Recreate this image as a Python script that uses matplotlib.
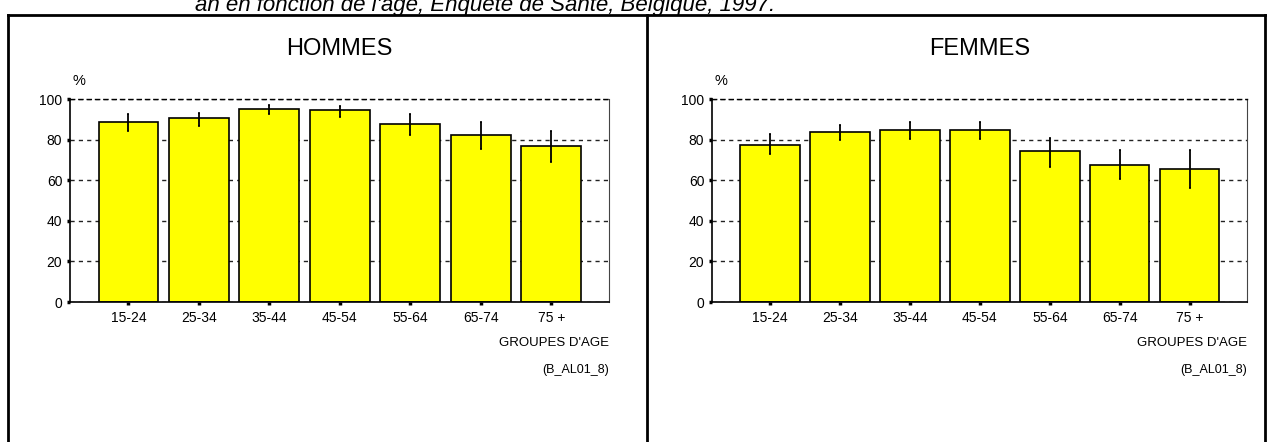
import matplotlib.pyplot as plt
from matplotlib.lines import Line2D
import numpy as np

plt.rcParams['font.family'] = ['Liberation Sans', 'DejaVu Sans']

groupes = ["15-24", "25-34", "35-44", "45-54", "55-64", "65-74", "75 +"]

hommes = [88.8, 90.6, 95.1, 94.4, 87.5, 82.4, 76.7]
hommes_haut = [92.6, 92.9, 97.0, 96.5, 92.6, 88.7, 84.2]
hommes_bas = [84.4, 86.9, 92.4, 91.3, 82.4, 75.5, 68.8]

femmes = [77.3, 83.7, 84.9, 84.9, 74.4, 67.3, 65.5]
femmes_haut = [82.8, 87.2, 88.7, 88.7, 80.6, 74.9, 74.9]
femmes_bas = [73.1, 80.0, 80.5, 80.1, 66.7, 60.6, 56.0]

titre = "an en fonction de l'âge, Enquête de Santé, Belgique, 1997."

W, H = 1275, 442


def px(x0, y0, x1, y1):
    # pixel box (top-left origin) -> figure fraction
    return [x0 / W, (H - y1) / H, (x1 - x0) / W, (y1 - y0) / H]


def draw_panel(fig, rect, name, vals, hi, lo):
    ax = fig.add_axes(rect)
    x = np.arange(len(groupes))
    ax.set_axisbelow(True)
    ax.yaxis.grid(True, color='#222222', linestyle=(0, (3, 3)), linewidth=1)
    ax.bar(x, vals, width=0.85, color='#ffff00', edgecolor='black', linewidth=1.2, zorder=2)
    vals = np.array(vals)
    err = [vals - np.array(lo), np.array(hi) - vals]
    ax.errorbar(x, vals, yerr=err, fmt='none', ecolor='black', elinewidth=1.3, capsize=1, capthick=1.2, zorder=3)
    ax.set_xlim(-0.83, 6.82)
    ax.set_ylim(0, 100)
    ax.set_yticks([0, 20, 40, 60, 80, 100])
    ax.set_xticks(x)
    ax.set_xticklabels(groupes)
    ax.tick_params(axis='both', direction='out', length=2.5, width=2.5, labelsize=10, colors='black')
    ax.tick_params(axis='y', pad=3)
    ax.tick_params(axis='x', pad=4)
    ax.spines['top'].set_linestyle((0, (3, 3)))
    ax.spines['top'].set_linewidth(1)
    ax.spines['right'].set_color('#444444')
    ax.spines['left'].set_linewidth(1.2)
    ax.spines['bottom'].set_linewidth(1.2)
    ax.set_title(name, fontsize=17, pad=32)
    ax.text(0.017, 1.09, "%", transform=ax.transAxes, fontsize=10.5, ha='center', va='center')
    ax.text(1.0, -0.2, "GROUPES D'AGE", transform=ax.transAxes, fontsize=9.5, ha='right', va='center')
    ax.text(1.0, -0.333, "(B_AL01_8)", transform=ax.transAxes, fontsize=9, ha='right', va='center')
    return ax


fig = plt.figure(figsize=(12.75, 4.42), dpi=100)

draw_panel(fig, px(70, 99, 609, 302), "HOMMES", hommes, hommes_haut, hommes_bas)
draw_panel(fig, px(712, 99, 1247, 302), "FEMMES", femmes, femmes_haut, femmes_bas)

# cadre
for xs, ys in [([8, 8], [15, H + 5]), ([8, 1265], [15, 15]),
               ([647, 647], [15, H + 5]), ([1265, 1265], [15, H + 5])]:
    fig.add_artist(Line2D([v / W for v in xs], [(H - v) / H for v in ys],
                          color='black', linewidth=2, transform=fig.transFigure))

fig.text(195 / W, (H - 11) / H, titre, fontsize=16, style='italic', ha='left', va='baseline')

fig.savefig("out.png", dpi=100)
